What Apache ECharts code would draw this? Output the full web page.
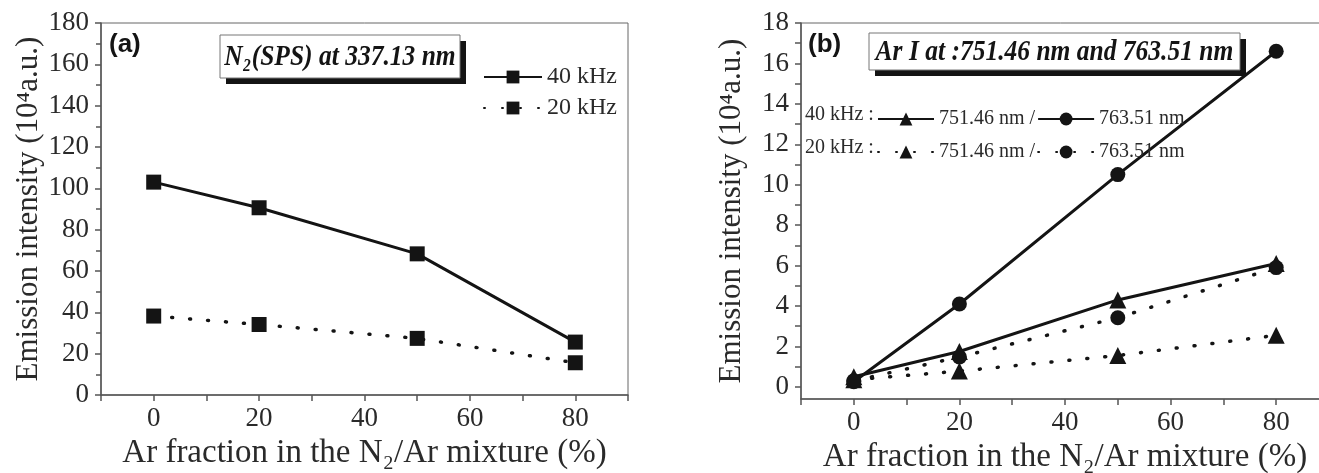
<!DOCTYPE html>
<html>
<head>
<meta charset="utf-8">
<script src="https://cdn.jsdelivr.net/npm/echarts@6/dist/echarts.min.js"></script>
<style>html,body{margin:0;padding:0;background:#fff}#c{width:1319px;height:473px}</style>
</head>
<body>
<div id="c"></div>
<script>
// ---- data ----
const xVals = [0, 20, 50, 80];
const a40kHz = [103, 90.6, 68.3, 25.6];
const a20kHz = [38.2, 34.1, 27.4, 15.6];
const b40_751 = [0.5, 1.75, 4.3, 6.1];
const b40_763 = [0.25, 4.1, 10.5, 16.6];
const b20_751 = [0.35, 0.78, 1.55, 2.55];
const b20_763 = [0.3, 1.48, 3.42, 5.9];
const yTicksB = [0, 2, 4, 6, 8, 10, 12, 14, 16, 18];
const yMinorB = [0,1,2,3,4,5,6,7,8,9,10,11,12,13,14,15,16,17,18];

const pts = (ys) => xVals.map((x, i) => [x, ys[i]]);
const serif = 'Liberation Serif';
const txt = '#2a2a2a';
const ink = '#141414';
const axisCol = '#555';
const dotted = [1, 17];

const chart = echarts.init(document.getElementById('c'), null, {renderer: 'canvas'});

function xAxis(gi) {
  return {
    type: 'value', gridIndex: gi, min: -10, max: 90, interval: 10,
    splitLine: {show: false},
    axisLine: {onZero: false, lineStyle: {color: axisCol, width: 1.5}},
    axisTick: {length: 6, lineStyle: {color: axisCol, width: 1.5}},
    axisLabel: {
      fontFamily: serif, fontSize: 27, color: txt, margin: 10,
      formatter: v => (v >= 0 && v <= 80 && v % 20 === 0) ? String(v) : ''
    },
    name: 'Ar fraction in the N\u2082/Ar mixture (%)',
    nameLocation: 'middle', nameGap: 40,
    nameTextStyle: {fontFamily: serif, fontSize: 33, color: txt}
  };
}

function line(name, data, xi, sym, solid, size) {
  return {
    type: 'line', name: name, xAxisIndex: xi, yAxisIndex: xi,
    data: data, symbol: sym, symbolSize: size,
    itemStyle: {color: ink},
    lineStyle: solid ? {color: ink, width: 3} : {color: ink, width: 3.5, type: dotted, cap: 'round'},
    z: solid ? 3 : 2
  };
}

function titleBox(x, y, w, h, text) {
  return {
    type: 'group',
    children: [
      {type: 'rect', shape: {x: x + 6, y: y + 6, width: w, height: h}, style: {fill: ink}},
      {type: 'rect', shape: {x: x, y: y, width: w, height: h}, style: {fill: '#fff', stroke: '#777', lineWidth: 1}},
      {type: 'text', x: x + w / 2, y: y + h / 2 + 1, scaleX: 0.85,
       style: {text: text, font: 'italic bold 30px "Liberation Serif"', fill: ink, align: 'center', verticalAlign: 'middle'}}
    ]
  };
}

const option = {
  animation: false,
  backgroundColor: '#fff',
  grid: [
    {left: 101, top: 23, right: 691, bottom: 78, show: true, borderColor: '#666', borderWidth: 1, outerBoundsMode: 'none'},
    {left: 801, top: 23, right: -10, bottom: 74, show: true, borderColor: '#666', borderWidth: 1, outerBoundsMode: 'none'}
  ],
  xAxis: [xAxis(0), xAxis(1)],
  yAxis: [
    {
      type: 'value', gridIndex: 0, min: 0, max: 180, interval: 20,
      splitLine: {show: false},
      axisLine: {show: true, onZero: false, lineStyle: {color: axisCol, width: 1.5}},
      axisTick: {show: true, length: 6, lineStyle: {color: axisCol, width: 1.5}},
      minorTick: {show: true, splitNumber: 2, length: 5, lineStyle: {color: axisCol, width: 1.5}},
      axisLabel: {fontFamily: serif, fontSize: 27, color: txt, margin: 12},
      name: 'Emission intensity (10\u2074a.u.)',
      nameLocation: 'middle', nameGap: 55,
      nameTextStyle: {fontFamily: serif, fontSize: 31, color: txt}
    },
    {
      type: 'value', gridIndex: 1, min: -0.6, max: 18,
      splitLine: {show: false},
      axisLine: {show: true, onZero: false, lineStyle: {color: axisCol, width: 1.5}},
      axisTick: {show: true, length: 6, customValues: yMinorB, lineStyle: {color: axisCol, width: 1.5}},
      axisLabel: {fontFamily: serif, fontSize: 27, color: txt, margin: 12, customValues: yTicksB},
      name: 'Emission intensity (10\u2074a.u.)',
      nameLocation: 'middle', nameGap: 54,
      nameTextStyle: {fontFamily: serif, fontSize: 31, color: txt}
    }
  ],
  title: [
    {text: '(a)', left: 109, top: 32, padding: 0, textStyle: {fontFamily: 'Liberation Sans', fontWeight: 'bold', fontSize: 26, color: ink}},
    {text: '(b)', left: 808, top: 32, padding: 0, textStyle: {fontFamily: 'Liberation Sans', fontWeight: 'bold', fontSize: 26, color: ink}}
  ],
  legend: [
    {
      data: ['40 kHz', '20 kHz'], orient: 'vertical', left: 478, top: 60,
      itemWidth: 58, itemHeight: 16, itemGap: 7, selectedMode: false,
      textStyle: {fontFamily: serif, fontSize: 24, color: txt}
    },
    {
      data: ['40 kHz 751.46 nm', '40 kHz 763.51 nm'], orient: 'horizontal', left: 872, top: 104,
      itemWidth: 56, itemHeight: 16, itemGap: 2, selectedMode: false,
      formatter: n => n.indexOf('751') >= 0 ? '751.46 nm /' : '763.51 nm',
      textStyle: {fontFamily: serif, fontSize: 20, color: txt}
    },
    {
      data: ['20 kHz 751.46 nm', '20 kHz 763.51 nm'], orient: 'horizontal', left: 872, top: 137,
      itemWidth: 56, itemHeight: 16, itemGap: 2, selectedMode: false,
      formatter: n => n.indexOf('751') >= 0 ? '751.46 nm /' : '763.51 nm',
      textStyle: {fontFamily: serif, fontSize: 20, color: txt}
    }
  ],
  graphic: [
    titleBox(220, 35, 240, 43, 'N\u2082(SPS) at 337.13 nm'),
    titleBox(869, 33, 371, 37, 'Ar I at :751.46 nm and 763.51 nm'),
    {type: 'text', x: 805, y: 115, style: {text: '40 kHz :', font: '20px "Liberation Serif"', fill: txt, verticalAlign: 'middle'}},
    {type: 'text', x: 805, y: 148, style: {text: '20 kHz :', font: '20px "Liberation Serif"', fill: txt, verticalAlign: 'middle'}}
  ],
  series: [
    line('40 kHz', pts(a40kHz), 0, 'rect', true, 15),
    line('20 kHz', pts(a20kHz), 0, 'rect', false, 15),
    line('20 kHz 751.46 nm', pts(b20_751), 1, 'triangle', false, 17),
    line('20 kHz 763.51 nm', pts(b20_763), 1, 'circle', false, 15),
    line('40 kHz 751.46 nm', pts(b40_751), 1, 'triangle', true, 17),
    line('40 kHz 763.51 nm', pts(b40_763), 1, 'circle', true, 15)
  ]
};
chart.setOption(option);
</script>
</body>
</html>
